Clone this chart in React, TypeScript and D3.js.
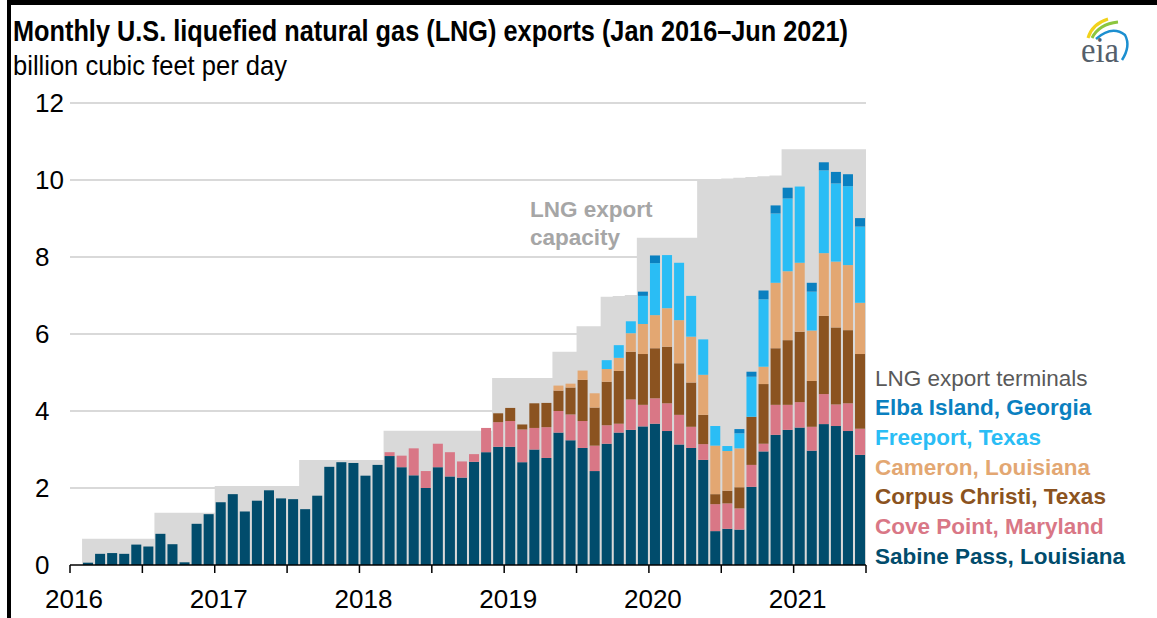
import React from 'react'
import * as d3 from 'd3'

// months from Jan 2016 (index 0) to Jun 2021 (index 65)
const monthIndex = d3.range(66)
const yearLabels = ['2016', '2017', '2018', '2019', '2020', '2021']
const yTicks = [0, 2, 4, 6, 8, 10, 12]

// bcf/d, one value per month
const sabinePass = [
  0, 0.06, 0.29, 0.31, 0.29, 0.53, 0.48, 0.81, 0.54, 0.07, 1.07, 1.32,
  1.63, 1.84, 1.39, 1.67, 1.94, 1.73, 1.71, 1.45, 1.8, 2.55, 2.67, 2.65,
  2.32, 2.6, 2.83, 2.54, 2.33, 2.0, 2.54, 2.3, 2.27, 2.68, 2.93, 3.07,
  3.07, 2.67, 3.0, 2.78, 3.44, 3.24, 3.04, 2.44, 3.15, 3.44, 3.51, 3.6,
  3.67, 3.48, 3.13, 3.04, 2.73, 0.88, 0.94, 0.92, 2.03, 2.95, 3.38, 3.51,
  3.57, 2.97, 3.66, 3.61, 3.48, 2.86
]
const covePoint = [
  0, 0, 0, 0, 0, 0, 0, 0, 0, 0, 0, 0,
  0, 0, 0, 0, 0, 0, 0, 0, 0, 0, 0, 0,
  0, 0, 0.1, 0.3, 0.7, 0.44, 0.61, 0.63, 0.42, 0.2, 0.63, 0.64,
  0.67, 0.85, 0.56, 0.8, 0.56, 0.67, 0.7, 0.66, 0.48, 0.23, 0.79, 0.56,
  0.66, 0.72, 0.77, 0.55, 0.41, 0.7, 0.66, 0.55, 0.57, 0.2, 0.78, 0.65,
  0.66, 0.62, 0.78, 0.56, 0.72, 0.68
]
const corpusChristi = [
  0, 0, 0, 0, 0, 0, 0, 0, 0, 0, 0, 0,
  0, 0, 0, 0, 0, 0, 0, 0, 0, 0, 0, 0,
  0, 0, 0, 0, 0, 0, 0, 0, 0, 0, 0, 0.23,
  0.34, 0.13, 0.64, 0.63, 0.53, 0.7, 1.07, 0.99, 1.13, 1.37, 1.24, 1.32,
  1.3, 1.47, 1.34, 1.15, 0.76, 0.26, 0.33, 0.55, 1.25, 1.55, 1.47, 1.68,
  1.83, 1.19, 2.03, 2.0, 1.9, 1.94
]
const cameron = [
  0, 0, 0, 0, 0, 0, 0, 0, 0, 0, 0, 0,
  0, 0, 0, 0, 0, 0, 0, 0, 0, 0, 0, 0,
  0, 0, 0, 0, 0, 0, 0, 0, 0, 0, 0, 0,
  0, 0, 0, 0, 0.13, 0.1, 0.24, 0.37, 0.33, 0.34, 0.48, 0.78,
  0.86, 1.0, 1.12, 1.19, 1.04, 1.26, 1.03, 1.01, 0, 0.45, 1.7, 1.79,
  1.79, 1.31, 1.63, 1.71, 1.69, 1.33
]
const freeport = [
  0, 0, 0, 0, 0, 0, 0, 0, 0, 0, 0, 0,
  0, 0, 0, 0, 0, 0, 0, 0, 0, 0, 0, 0,
  0, 0, 0, 0, 0, 0, 0, 0, 0, 0, 0, 0,
  0, 0, 0, 0, 0, 0, 0, 0, 0.23, 0.33, 0.31, 0.73,
  1.35, 1.38, 1.49, 1.06, 0.92, 0.51, 0.13, 0.39, 1.04, 1.75, 1.8, 1.89,
  1.98, 1.01, 2.15, 2.03, 2.05, 1.98
]
const elbaIsland = [
  0, 0, 0, 0, 0, 0, 0, 0, 0, 0, 0, 0,
  0, 0, 0, 0, 0, 0, 0, 0, 0, 0, 0, 0,
  0, 0, 0, 0, 0, 0, 0, 0, 0, 0, 0, 0,
  0, 0, 0, 0, 0, 0, 0, 0, 0, 0, 0, 0.11,
  0.2, 0, 0, 0, 0, 0, 0, 0.11, 0.13, 0.23, 0.21, 0.28,
  0, 0.23, 0.21, 0.3, 0.31, 0.22
]
// export capacity, bcf/d, step per month
const capacity = [
  0, 0.68, 0.68, 0.68, 0.68, 0.68, 0.68, 1.36, 1.36, 1.36, 1.36, 1.36,
  2.05, 2.05, 2.05, 2.05, 2.05, 2.05, 2.05, 2.73, 2.73, 2.73, 2.73, 2.73,
  2.73, 2.73, 3.49, 3.49, 3.49, 3.49, 3.49, 3.49, 3.49, 3.49, 3.49, 4.86,
  4.86, 4.86, 4.86, 4.86, 5.54, 5.54, 6.2, 6.2, 6.97, 6.99, 7.01, 8.5,
  8.5, 8.5, 8.5, 8.5, 10.0, 10.02, 10.04, 10.06, 10.08, 10.1, 10.12, 10.8,
  10.8, 10.8, 10.8, 10.8, 10.8, 10.8
]

// bottom to top stacking order
const terminals = [
  { key: 'sabine', label: 'Sabine Pass, Louisiana', color: '#014c6c', values: sabinePass },
  { key: 'cove', label: 'Cove Point, Maryland', color: '#d97786', values: covePoint },
  { key: 'corpus', label: 'Corpus Christi, Texas', color: '#8b5320', values: corpusChristi },
  { key: 'cameron', label: 'Cameron, Louisiana', color: '#e3a772', values: cameron },
  { key: 'freeport', label: 'Freeport, Texas', color: '#2abdf5', values: freeport },
  { key: 'elba', label: 'Elba Island, Georgia', color: '#0a80c0', values: elbaIsland }
]

const W = 1157
const H = 618
const left = 70
const right = 866
const top = 103
const bottom = 565

export default function App () {
  const x = d3.scaleBand<number>().domain(monthIndex).range([left, right])
    .paddingInner(0.17).paddingOuter(0.08)
  const xt = d3.scaleLinear().domain([0, 66]).range([left, right])
  const y = d3.scaleLinear().domain([0, 12]).range([bottom, top])

  const rows = monthIndex.map(i => {
    const r: any = { i }
    terminals.forEach(t => { r[t.key] = t.values[i] })
    return r
  })
  const stacked = d3.stack().keys(terminals.map(t => t.key))(rows)

  const capPts = capacity.map((v, i) => [i, v]).concat([[66, capacity[65]]])
  const capArea = d3.area<number[]>()
    .curve(d3.curveStepAfter)
    .x(d => xt(d[0]))
    .y0(y(0))
    .y1(d => y(d[1]))

  const legendItems = terminals.slice().reverse()
  const sans = 'Arial, "Liberation Sans", Helvetica, sans-serif'
  const narrow = '"Liberation Sans Narrow", "Arial Narrow", Arial, sans-serif'

  return (
    <svg width={W} height={H} style={{ position: 'absolute', left: 0, top: 0, background: '#fff' }}
      fontFamily={sans}>
      <rect x={0} y={0} width={W} height={H} fill='#fff' />

      {yTicks.filter(v => v > 0).map(v => (
        <line key={v} x1={left} x2={right} y1={y(v)} y2={y(v)} stroke='#d9d9d9' strokeWidth={2} />
      ))}

      <path d={capArea(capPts as any) || ''} fill='#d9d9d9' />

      <text x={530} y={217} fontSize={22.5} fontWeight='bold' fill='#a6a6a6'>LNG export</text>
      <text x={530} y={245} fontSize={22.5} fontWeight='bold' fill='#a6a6a6'>capacity</text>

      {stacked.map((layer, li) => (
        <g key={layer.key} fill={terminals[li].color}>
          {layer.map((d, i) => d[1] - d[0] > 0 ? (
            <rect key={i} x={x(i)} width={x.bandwidth()} y={y(d[1])} height={y(d[0]) - y(d[1])} />
          ) : null)}
        </g>
      ))}

      <line x1={left} x2={right} y1={bottom} y2={bottom} stroke='#000' strokeWidth={1.5} />
      {d3.range(0, 67, 6).map(m => (
        <line key={m} x1={xt(m)} x2={xt(m)} y1={bottom} y2={bottom + 8} stroke='#000' strokeWidth={1.5} />
      ))}
      {yearLabels.map((lab, k) => (
        <text key={lab} x={xt(k * 12) + 4} y={608} fontSize={26} textAnchor='middle' fill='#000'>{lab}</text>
      ))}
      {yTicks.map(v => (
        <text key={v} x={35} y={y(v) + 9} fontSize={26} fill='#000'>{v}</text>
      ))}

      <text x={875} y={386} fontSize={22.5} fill='#595959'>LNG export terminals</text>
      {legendItems.map((t, k) => (
        <text key={t.key} x={875} y={415 + k * 29.8} fontSize={22.5} fontWeight='bold' fill={t.color}>{t.label}</text>
      ))}

      <text x={13} y={41} fontSize={30} fontWeight='bold' fontFamily={narrow} fill='#000'
        textLength={835} lengthAdjust='spacingAndGlyphs'>
        Monthly U.S. liquefied natural gas (LNG) exports (Jan 2016–Jun 2021)
      </text>
      <text x={13} y={75} fontSize={28} fontFamily={narrow} fill='#000'
        textLength={274} lengthAdjust='spacingAndGlyphs'>
        billion cubic feet per day
      </text>

      <g>
        <path d='M1088,38 Q1092,24 1108,19' fill='none' stroke='#f2d21b' strokeWidth={3} />
        <path d='M1092,38 Q1099,24 1118,22' fill='none' stroke='#8cc63f' strokeWidth={3} />
        <path d='M1096,39 Q1112,25 1125,35 Q1131,46 1122,60' fill='none' stroke='#1c8fd0' strokeWidth={2.5} />
        <text x={1081} y={62} fontSize={36} fontFamily='"Liberation Serif", "DejaVu Serif", serif'
          fill='#555f6b' textLength={38} lengthAdjust='spacingAndGlyphs'>eia</text>
      </g>

      <rect x={7} y={0} width={W - 7} height={5} fill='#000' />
      <rect x={7} y={0} width={4} height={H} fill='#000' />
    </svg>
  )
}
